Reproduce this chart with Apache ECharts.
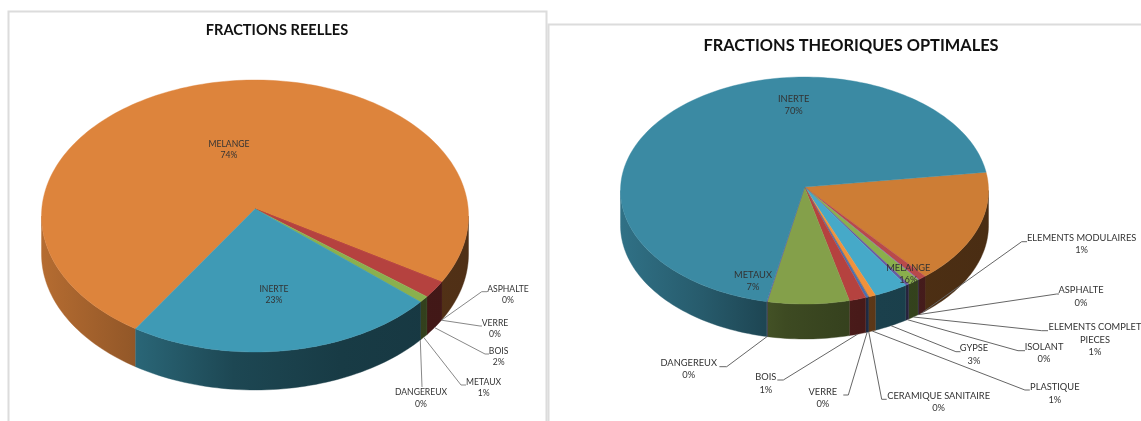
<!DOCTYPE html>
<html><head><meta charset="utf-8">
<style>html,body{margin:0;padding:0;background:#fff;overflow:hidden}#c{width:1141px;height:421px}</style>
<script src="https://cdn.jsdelivr.net/npm/echarts@6/dist/echarts.min.js"></script>
</head><body><div id="c"></div>
<script>
// ---- data ----
const leftNames = ['MELANGE','ASPHALTE','VERRE','BOIS','METAUX','DANGEREUX','INERTE'];
const leftValues = [73.5, 0.01, 0.01, 2.0, 0.8, 0.01, 23.49];
const rightNames = ['MELANGE','ELEMENTS MODULAIRES','ASPHALTE','ELEMENTS COMPLET\nPIECES','ISOLANT','GYPSE','PLASTIQUE','CERAMIQUE SANITAIRE','VERRE','BOIS','METAUX','DANGEREUX','INERTE'];
const rightValues = [16.3, 0.7, 0.1, 1.0, 0.3, 3.0, 0.6, 0.05, 0.25, 1.49, 7.2, 0.05, 69.5];
// ---- styles ----
const leftColors = ['#dd843c','#b5423f','#b5423f','#b5423f','#8ab04e','#3f9ab5','#3f9ab5'];
const rightColors = ['#cd7d35','#b84a4a','#8a5fb0','#8aaf4c','#6a5aa0','#46a9c8','#f0923c','#a8763c','#4a6fb0','#b5423f','#84a04a','#6b4f9a','#3b8aa3'];
// ---- layout ----
const leftPie = {cx:255, cy:216, rx:213.5, ry:136, apexX:255, apexY:209, depth:38, start:214};
const rightPie = {cx:804.5, cy:190.5, rx:184, ry:113.5, apexX:804.5, apexY:187, depth:35, start:80.7};
// label centre [x,y]; elbow [x1,y1,x2,y2] where present
const leftLabels = [[229,149.5],[508,294.5,481.7,291.7,487,291.7],[495,328.5,480,326,482,326],[498.6,356.5,485,354,489,354],[483.6,387.5,461,385,466,385],[421,398,422,387,422,387],[274,294.5]];
const rightLabels = [[908.3,274],[1081.6,244,1021.7,241.7,1027,241.7],[1081,296.5,1056.7,294,1059,294],[1095,339.5,1041.7,330.7,1048,330.7],[1044,353,1018,350.7,1025,350.7],[974,354.5,955.9,351.7,960.5,351.7],[1054.8,393.5,1024.9,390,1029.8,390],[938.6,402,881.7,399.3,886.7,399.3],[822.9,398,848.3,395,843.3,395],[765.8,383.5,783.3,380,777.3,380],[753,281],[688.7,369,726.7,366.7,719.4,366.7],[793.7,105]];

function shade(hex, f){
  const n = parseInt(hex.slice(1),16);
  const c = [n>>16&255, n>>8&255, n&255].map(v=>Math.round(v*f));
  return 'rgb('+c.join(',')+')';
}
const wallStops = [[0,.82],[.22,.66],[.45,.46],[.7,.38],[1,.36]];
function rim(p,deg,dy){
  const a = deg*Math.PI/180;
  return [p.cx+p.rx*Math.sin(a), p.cy-p.ry*Math.cos(a)+(dy||0)];
}
function angles(values,start){
  const total = values.reduce((a,b)=>a+b,0);
  let cur = start;
  return values.map(v=>{const s=cur; cur+=v/total*360; return [s,cur];});
}
function sliceSeries(values,colors,p){
  const ang = angles(values,p.start);
  return {
    type:'custom', coordinateSystem:'none', data:values, silent:true, z:2,
    renderItem(params){
      const i = params.dataIndex, [a,b] = ang[i], children = [];
      [[90,270],[450,630]].forEach(([lo,hi])=>{
        const s = Math.max(a,lo), e = Math.min(b,hi);
        if(e<=s) return;
        const top=[], bot=[];
        const n = Math.max(2,Math.ceil((e-s)/1.5));
        for(let k=0;k<=n;k++){const d=s+(e-s)*k/n; top.push(rim(p,d)); bot.unshift(rim(p,d,p.depth));}
        const stops = wallStops.map(([t,f])=>({offset:t,color:shade(colors[i],f)}));
        const fill = new echarts.graphic.LinearGradient(p.cx-p.rx,0,p.cx+p.rx,0,stops,true);
        children.push({type:'polygon',shape:{points:top.concat(bot)},style:{fill,stroke:fill,lineWidth:.4}});
      });
      const pts=[[p.apexX,p.apexY]];
      const n = Math.max(2,Math.ceil((b-a)/1.5));
      for(let k=0;k<=n;k++) pts.push(rim(p,a+(b-a)*k/n));
      children.push({type:'polygon',shape:{points:pts},style:{fill:colors[i],stroke:colors[i],lineWidth:.4}});
      return {type:'group',children};
    }
  };
}
function labelSeries(names,values,layout,p,font,lh,lineColor){
  const ang = angles(values,p.start);
  return {
    type:'custom', coordinateSystem:'none', data:values, silent:true, z:5,
    renderItem(params,api){
      const i = params.dataIndex, L = layout[i], children = [];
      const pct = Math.round(api.value(0))+'%';
      if(L.length>2){
        const mid = (ang[i][0]+ang[i][1])/2;
        const st = rim(p,mid,p.depth);
        children.push({type:'polyline',shape:{points:[st,[L[2],L[3]],[L[4],L[5]]]},style:{fill:null,stroke:lineColor,lineWidth:1}});
      }
      children.push({type:'text',style:{x:L[0],y:L[1],text:names[i]+'\n'+pct,align:'center',verticalAlign:'middle',font:font,lineHeight:lh,fill:'#333'}});
      return {type:'group',children};
    }
  };
}
const chart = echarts.init(document.getElementById('c'),null,{renderer:'canvas'});
chart.setOption({
  animation:false, backgroundColor:'#fff',
  title:[
    {text:'FRACTIONS REELLES',left:272,top:25.5,textAlign:'center',textVerticalAlign:'middle',textStyle:{fontFamily:'Lato',fontWeight:'bold',fontSize:14.6,color:'#111'}},
    {text:'FRACTIONS THEORIQUES OPTIMALES',left:846,top:40.5,textAlign:'center',textVerticalAlign:'middle',textStyle:{fontFamily:'Lato',fontWeight:'bold',fontSize:16.4,color:'#111'}}
  ],
  graphic:[
    {type:'polyline',z:0,shape:{points:[[8.5,421],[8.5,11.5],[546.5,11.5],[546.5,421]]},style:{fill:null,stroke:'#dcdcdc',lineWidth:2}},
    {type:'polyline',z:0,shape:{points:[[548.5,421],[548.5,24.5],[1141,24.5]]},style:{fill:null,stroke:'#dcdcdc',lineWidth:2}}
  ],
  series:[
    sliceSeries(leftValues,leftColors,leftPie),
    sliceSeries(rightValues,rightColors,rightPie),
    labelSeries(leftNames,leftValues,leftLabels,leftPie,'8.6px Lato',11.5,'#888'),
    labelSeries(rightNames,rightValues,rightLabels,rightPie,'9.3px Lato',12.5,'#666')
  ]
});
</script></body></html>
